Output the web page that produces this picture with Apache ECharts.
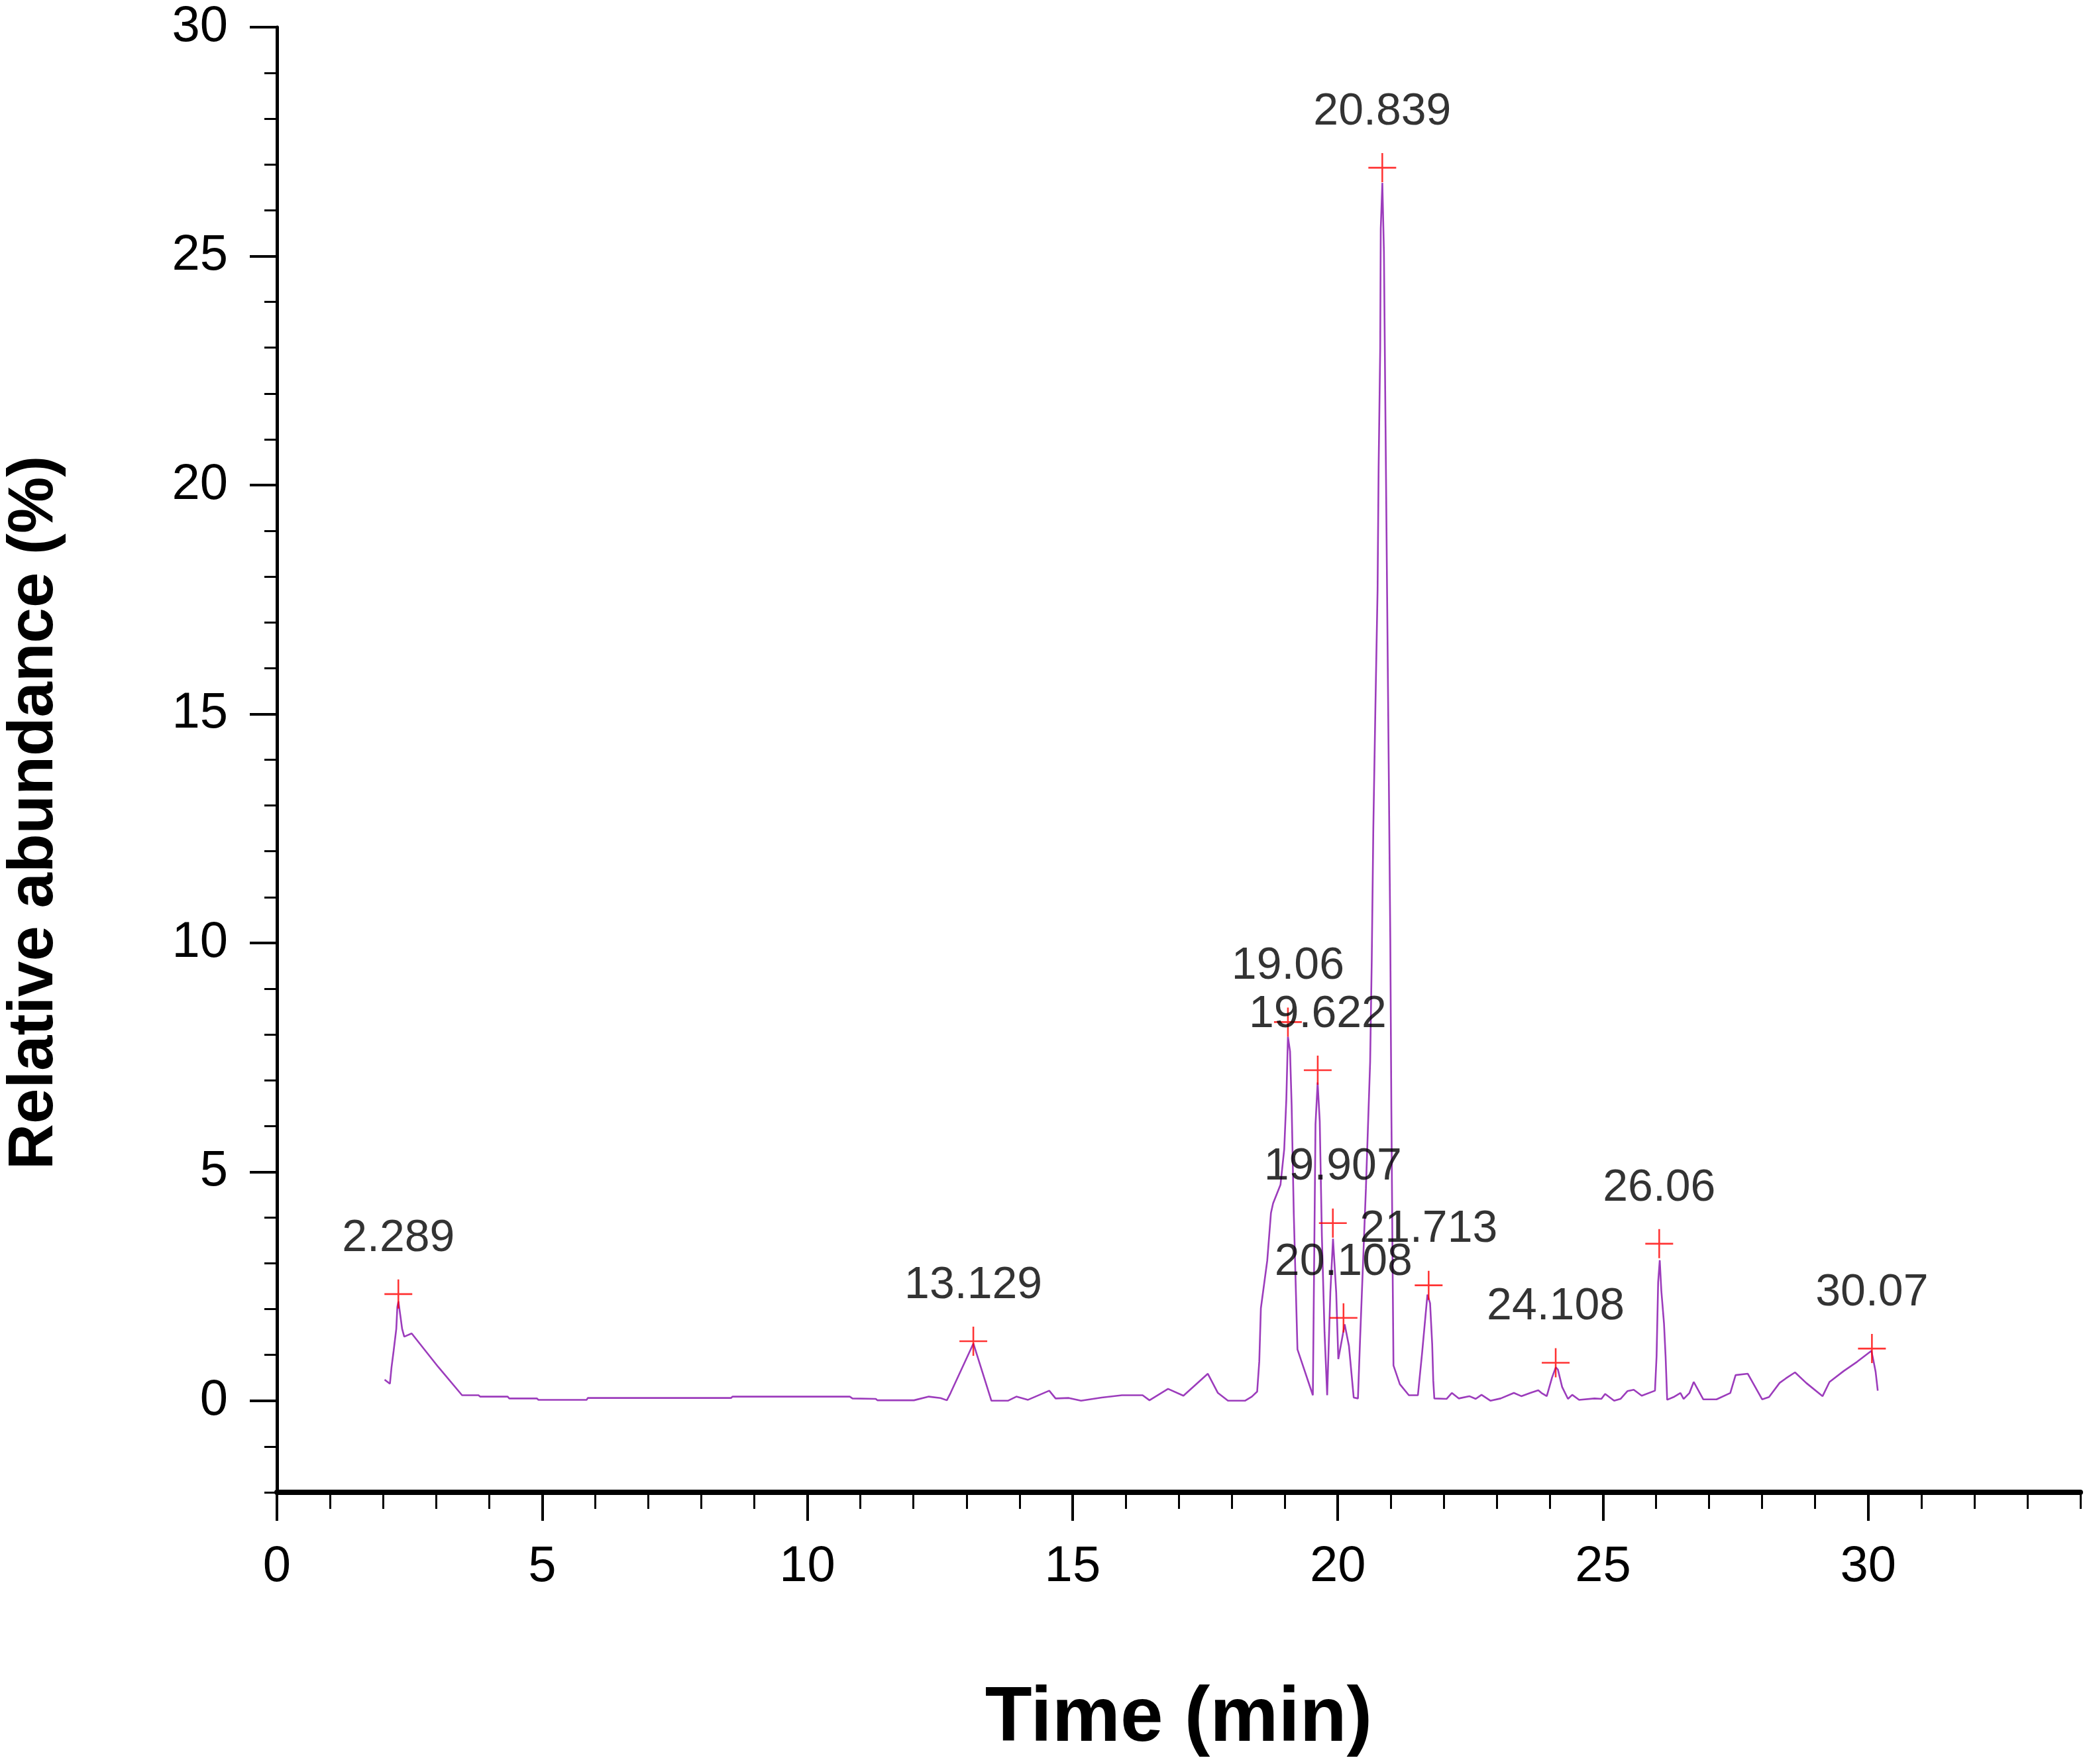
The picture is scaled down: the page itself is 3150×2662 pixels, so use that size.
<!DOCTYPE html>
<html>
<head>
<meta charset="utf-8">
<script src="https://cdn.jsdelivr.net/npm/echarts@6/dist/echarts.min.js"></script>
<style>
html,body{margin:0;padding:0;background:#fff;}
#chart{width:3150px;height:2662px;}
</style>
</head>
<body>
<div id="chart"></div>
<script>
// Retention time (min)
var times = [2.03,2.13,2.16,2.20,2.25,2.27,2.29,2.33,2.36,2.40,2.54,3.04,3.49,3.80,3.83,4.35,4.38,4.90,4.93,5.84,
5.86,8.56,8.59,10.80,10.85,11.29,11.32,12.01,12.29,12.51,12.63,12.70,13.13,13.47,13.78,13.94,14.16,14.56,14.68,14.93,
15.16,15.55,15.93,16.32,16.45,16.80,17.09,17.55,17.74,17.93,18.25,18.38,18.48,18.52,18.55,18.67,18.74,18.78,18.92,18.99,
19.03,19.06,19.10,19.13,19.17,19.24,19.53,19.58,19.62,19.66,19.70,19.75,19.80,19.86,19.91,19.97,20.01,20.13,20.21,20.30,
20.38,20.42,20.53,20.61,20.64,20.67,20.71,20.75,20.77,20.80,20.81,20.84,20.87,20.90,20.93,20.96,20.99,21.01,21.03,21.05,
21.17,21.34,21.51,21.59,21.69,21.74,21.78,21.80,21.82,22.05,22.15,22.28,22.48,22.60,22.71,22.88,23.07,23.32,23.46,23.63,
23.78,23.84,23.94,24.04,24.11,24.15,24.23,24.34,24.42,24.55,24.84,24.97,25.04,25.21,25.33,25.46,25.58,25.73,25.98,26.01,
26.04,26.07,26.10,26.15,26.18,26.21,26.33,26.46,26.52,26.63,26.71,26.89,27.14,27.40,27.50,27.73,28.00,28.13,28.33,28.45,
28.62,28.83,29.14,29.27,29.54,29.79,30.06,30.10,30.14,30.18];
// Relative abundance (%)
var abundance = [0.46,0.37,0.73,1.09,1.57,2.05,2.17,1.83,1.57,1.40,1.47,0.74,0.12,0.12,0.09,0.09,0.05,0.05,0.02,0.02,
0.06,0.06,0.09,0.09,0.05,0.04,0.01,0.01,0.09,0.06,0.01,0.17,1.25,0.00,0.00,0.09,0.02,0.22,0.05,0.06,
0.00,0.07,0.12,0.12,0.01,0.26,0.11,0.59,0.17,0.00,0.00,0.09,0.20,0.86,2.02,3.06,4.10,4.31,4.72,5.49,
6.59,7.95,7.63,6.45,4.10,1.12,0.12,6.04,6.95,6.10,3.60,1.50,0.12,2.37,3.54,2.37,0.91,1.67,1.20,0.07,
0.05,1.33,4.63,7.40,9.60,12.5,15.2,17.7,20.4,23.0,25.6,26.6,25.1,21.3,17.6,13.9,10.1,6.37,3.40,0.77,
0.36,0.12,0.12,1.05,2.32,2.13,1.23,0.44,0.05,0.04,0.17,0.05,0.10,0.04,0.13,0.00,0.05,0.17,0.10,0.17,
0.23,0.17,0.10,0.51,0.73,0.68,0.30,0.04,0.13,0.02,0.05,0.04,0.15,0.00,0.04,0.21,0.24,0.11,0.22,0.97,
2.59,3.07,2.40,1.69,0.97,0.02,0.08,0.17,0.04,0.17,0.41,0.03,0.03,0.17,0.56,0.59,0.03,0.08,0.39,0.49,
0.62,0.39,0.10,0.41,0.65,0.85,1.09,0.87,0.63,0.22];
// Marked peaks
var peakTimes = [2.289,13.129,19.06,19.622,19.907,20.108,20.839,21.713,24.108,26.06,30.07];
var peakMarkHeights = [2.33,1.30,8.27,7.22,3.88,1.81,26.93,2.52,0.83,3.43,1.14];
var peakLabels = ['2.289','13.129','19.06','19.622','19.907','20.108','20.839','21.713','24.108','26.06','30.07'];
// Axis ticks
var xMajorTicks = [0,5,10,15,20,25,30];
var yMajorTicks = [0,5,10,15,20,25,30];

var traceData = times.map(function(t,i){return [t, abundance[i]];});
var peakData = peakTimes.map(function(t,i){return {value:[t, peakMarkHeights[i]], label:{formatter: peakLabels[i]}};});

var chart = echarts.init(document.getElementById('chart'), null, {renderer:'canvas', devicePixelRatio:1});
var font = 'Liberation Sans';
chart.setOption({
  backgroundColor:'#ffffff',
  animation:false,
  textStyle:{fontFamily:font},
  grid:{left:418, right:10, top:41, bottom:410, containLabel:false, outerBoundsMode:'none'},
  xAxis:[{
    type:'value', min:0, max:34, interval:5, position:'bottom',
    name:'Time (min)', nameLocation:'middle', nameGap:285,
    nameTextStyle:{fontFamily:font, fontWeight:'bold', fontSize:116, color:'#000'},
    axisLine:{show:true, onZero:false, lineStyle:{color:'#000', width:8}},
    axisTick:{show:true, inside:false, length:43, customValues:xMajorTicks, lineStyle:{color:'#000', width:4}},
    axisLabel:{show:true, margin:75, fontSize:76, color:'#000', fontFamily:font, customValues:xMajorTicks},
    splitLine:{show:false}
  },{
    type:'value', min:0, max:34, interval:1, position:'bottom',
    axisLine:{show:false, onZero:false},
    axisTick:{show:true, inside:false, length:25, lineStyle:{color:'#000', width:3}},
    axisLabel:{show:false},
    splitLine:{show:false}
  }],
  yAxis:[{
    type:'value', min:-2, max:30, interval:1, position:'left',
    name:'Relative abundance (%)', nameLocation:'middle', nameGap:317,
    nameTextStyle:{fontFamily:font, fontWeight:'bold', fontSize:96, color:'#000', padding:[0,160,0,0]},
    axisLine:{show:true, onZero:false, lineStyle:{color:'#000', width:5}},
    axisTick:{show:true, inside:false, length:41, customValues:yMajorTicks, lineStyle:{color:'#000', width:4}},
    axisLabel:{show:true, margin:74, fontSize:76, color:'#000', fontFamily:font, customValues:yMajorTicks},
    splitLine:{show:false}
  },{
    type:'value', min:-2, max:30, interval:1, position:'left',
    axisLine:{show:false, onZero:false},
    axisTick:{show:true, inside:false, length:19, lineStyle:{color:'#000', width:3}},
    axisLabel:{show:false},
    splitLine:{show:false}
  }],
  series:[{
    type:'line', xAxisIndex:0, yAxisIndex:0, data:traceData,
    showSymbol:false, symbol:'none', smooth:false,
    lineStyle:{color:'#9c3cbc', width:2.6},
    z:2
  },{
    type:'scatter', xAxisIndex:0, yAxisIndex:0, data:peakData,
    symbol:'path://M20,0 L20,40 M0,20 L40,20', symbolSize:[42,44],
    itemStyle:{color:'none', borderColor:'#ff0000', borderWidth:2.6},
    label:{show:true, position:'inside', offset:[0,-84], fontSize:68, color:'#000', fontFamily:font},
    z:3
  }]
});
</script>
</body>
</html>
